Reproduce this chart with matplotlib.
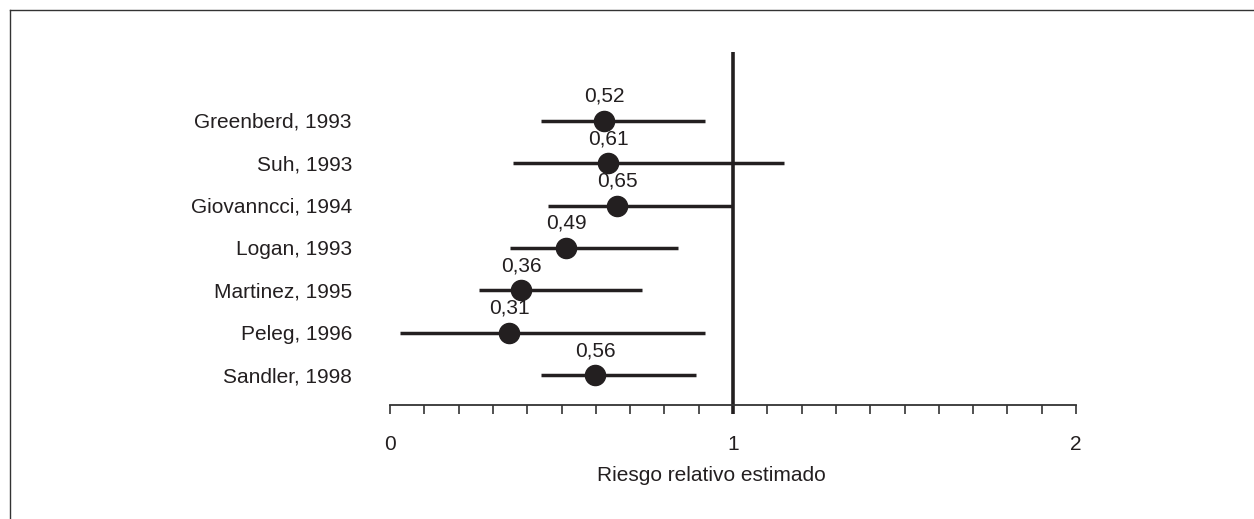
import matplotlib
matplotlib.use("Agg")
import matplotlib.pyplot as plt
from matplotlib.lines import Line2D

# ---- data ----
studies = ["Greenberd, 1993", "Suh, 1993", "Giovanncci, 1994", "Logan, 1993",
           "Martinez, 1995", "Peleg, 1996", "Sandler, 1998"]
estimate_labels = ["0,52", "0,61", "0,65", "0,49", "0,36", "0,31", "0,56"]
point_pos = [0.624, 0.636, 0.662, 0.514, 0.383, 0.347, 0.599]
ci_low = [0.439, 0.359, 0.461, 0.351, 0.259, 0.030, 0.441]
ci_high = [0.919, 1.150, 1.000, 0.839, 0.736, 0.918, 0.892]
major_ticks = [0, 1, 2]
major_ticklabels = ["0", "1", "2"]
x_label = "Riesgo relativo estimado"

# ---- layout ----
W, H, DPI = 1254, 519, 100
plt.rcParams['font.family'] = ['Liberation Sans', 'DejaVu Sans']
ink = "#231f20"

fig = plt.figure(figsize=(W / DPI, H / DPI), dpi=DPI)
ax_left_px, ax_right_px = 390, 1076
ax_top_px, ax_bot_px = 52.3, 405
ax_h_px = ax_bot_px - ax_top_px
ax = fig.add_axes([ax_left_px / W, 1 - ax_bot_px / H,
                   (ax_right_px - ax_left_px) / W, ax_h_px / H])

row_top_px, row_step_px = 120.7, 42.43
ymin = -(row_top_px - ax_top_px) / row_step_px
ymax = (len(studies) - 1) + (ax_bot_px - (row_top_px + row_step_px * (len(studies) - 1))) / row_step_px
ax.set_ylim(ymax, ymin)
ax.set_xlim(0, 2)

rows = list(range(len(studies)))

ax.axvline(1, ymin=-9.3 / ax_h_px, ymax=1, color=ink, lw=2.6, zorder=2,
           clip_on=False, solid_capstyle='butt')

for i in rows:
    ax.plot([ci_low[i], ci_high[i]], [i, i], color=ink, lw=2.5,
            solid_capstyle='butt', zorder=3)
    ax.plot(point_pos[i], i, 'o', color=ink, ms=14.5, zorder=4)
    ax.annotate(estimate_labels[i], (point_pos[i], i), xytext=(0, 13.7),
                textcoords='offset points', ha='center', va='baseline',
                fontsize=15, color=ink)
    ax.annotate(studies[i], (0, i), xycoords=('axes fraction', 'data'),
                xytext=(-(ax_left_px - 352) * 72 / DPI, -5.2),
                textcoords='offset points', ha='right', va='baseline',
                fontsize=15, color=ink)

for s in ['left', 'right', 'top']:
    ax.spines[s].set_visible(False)
ax.spines['bottom'].set_color('#333333')
ax.spines['bottom'].set_linewidth(1.3)
ax.set_yticks([])
ax.set_xticks(major_ticks)
ax.set_xticklabels(major_ticklabels)
ax.set_xticks([t / 10 for t in range(0, 21)], minor=True)
ax.tick_params(axis='x', which='both', direction='out', length=6.7,
               width=1.2, color='#333333')
ax.tick_params(axis='x', which='major', labelsize=15, labelcolor=ink, pad=15.0)
ax.patch.set_alpha(0)

fig.text(711 / W, 1 - 480.7 / H, x_label, ha='center', va='baseline',
         fontsize=15, color=ink)

# frame (left and top edges visible)
fig.add_artist(Line2D([10 / W, 10 / W], [0, 1 - 10 / H], transform=fig.transFigure,
                      color='#333333', lw=1.0))
fig.add_artist(Line2D([10 / W, 1], [1 - 10 / H, 1 - 10 / H], transform=fig.transFigure,
                      color='#333333', lw=1.0))

fig.savefig("out.png", dpi=DPI)
